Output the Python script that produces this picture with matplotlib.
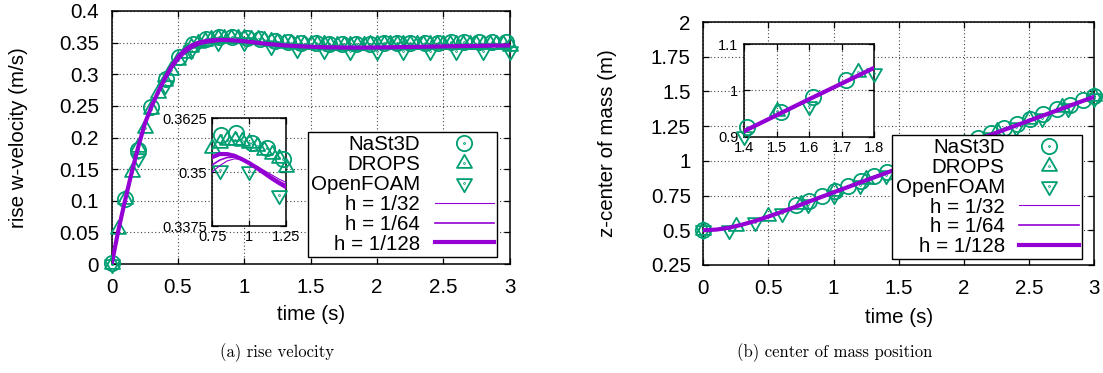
import numpy as np
import matplotlib
matplotlib.use('Agg')
import matplotlib.pyplot as plt
from matplotlib.path import Path
from matplotlib.ticker import FuncFormatter, MultipleLocator

# ---------------- data: rise velocity ----------------
t_sim_v = [0, 0.05, 0.1, 0.15, 0.2, 0.25, 0.3, 0.35, 0.4, 0.45, 0.5, 0.55, 0.6, 0.65, 0.7,
           0.75, 0.8, 0.85, 0.9, 0.95, 1.0, 1.05, 1.1, 1.15, 1.2, 1.25, 1.3, 1.4, 1.5, 1.6,
           1.7, 1.8, 1.9, 2.0, 2.2, 2.4, 2.6, 2.8, 3.0]
v_h128 = [0, 0.053, 0.100, 0.144, 0.185, 0.222, 0.249, 0.272, 0.293, 0.312, 0.327, 0.338, 0.345,
          0.3495, 0.3522, 0.3535, 0.3542, 0.3542, 0.3538, 0.3530, 0.3521, 0.3510, 0.3498, 0.3486,
          0.3475, 0.3465, 0.3457, 0.3444, 0.3435, 0.3428, 0.3424, 0.3422, 0.3422, 0.3424, 0.3430,
          0.3437, 0.3444, 0.3450, 0.3455]
v_h64 = [0, 0.053, 0.100, 0.144, 0.185, 0.222, 0.249, 0.271, 0.291, 0.309, 0.324, 0.335, 0.343,
         0.3478, 0.3505, 0.3517, 0.3528, 0.3534, 0.3535, 0.3529, 0.3521, 0.3511, 0.3500, 0.3489,
         0.3479, 0.3470, 0.3462, 0.3448, 0.3438, 0.3430, 0.3425, 0.3422, 0.3422, 0.3424, 0.3430,
         0.3437, 0.3444, 0.3450, 0.3455]
v_h32 = [0, 0.052, 0.099, 0.143, 0.184, 0.221, 0.248, 0.270, 0.289, 0.307, 0.321, 0.332, 0.340,
         0.3455, 0.3485, 0.3501, 0.3515, 0.3526, 0.3531, 0.3529, 0.3523, 0.3514, 0.3504, 0.3494,
         0.3484, 0.3476, 0.3468, 0.3453, 0.3441, 0.3432, 0.3426, 0.3423, 0.3422, 0.3424, 0.3430,
         0.3437, 0.3444, 0.3450, 0.3455]

t_nast_v = [0, 0.10, 0.20, 0.30, 0.41, 0.51, 0.61, 0.71, 0.81, 0.91, 1.02, 1.12, 1.23, 1.33, 1.43,
            1.54, 1.64, 1.74, 1.84, 1.95, 2.05, 2.15, 2.25, 2.36, 2.46, 2.56, 2.66, 2.77, 2.87, 2.97]
v_nast = [0.001, 0.102, 0.180, 0.249, 0.292, 0.327, 0.348, 0.356, 0.3586, 0.3590, 0.3568, 0.3557,
          0.3531, 0.3515, 0.3500, 0.3490, 0.3484, 0.3482, 0.3482, 0.3484, 0.3487, 0.3490, 0.3493,
          0.3496, 0.3499, 0.3502, 0.3504, 0.3506, 0.3508, 0.3510]

t_drops_v = [0, 0.05, 0.1, 0.15, 0.2, 0.25, 0.3, 0.35, 0.4, 0.45, 0.5, 0.55, 0.6, 0.65, 0.7, 0.75,
             0.8, 0.85, 0.9, 0.95, 1.0, 1.05, 1.1, 1.15, 1.2, 1.25, 1.3, 1.35, 1.4, 1.45, 1.5, 1.55,
             1.6, 1.65, 1.7, 1.75, 1.8, 1.85, 1.9, 1.95, 2.0, 2.05, 2.1, 2.15, 2.2, 2.25, 2.3, 2.35,
             2.4, 2.45, 2.5, 2.55, 2.6, 2.65, 2.7, 2.75, 2.8, 2.85, 2.9, 2.95, 3.0]
v_drops = [0.0, 0.056, 0.102, 0.146, 0.185, 0.215, 0.245, 0.270, 0.290, 0.307, 0.322, 0.334, 0.343,
           0.349, 0.353, 0.3555, 0.3567, 0.3574, 0.3575, 0.3572, 0.3567, 0.3560, 0.3551, 0.3543,
           0.3532, 0.3512, 0.3500, 0.3492, 0.3485, 0.3480, 0.3476, 0.3473, 0.3471, 0.3470, 0.3469,
           0.3469, 0.3469, 0.3470, 0.3470, 0.3471, 0.3472, 0.3472, 0.3473, 0.3474, 0.3474, 0.3475,
           0.3476, 0.3476, 0.3477, 0.3478, 0.3478, 0.3479, 0.3479, 0.3480, 0.3480, 0.3481, 0.3481,
           0.3482, 0.3482, 0.3482, 0.3450]

t_foam_v = [0, 0.2, 0.4, 0.6, 0.8, 1.0, 1.2, 1.4, 1.6, 1.8, 2.0, 2.2, 2.4, 2.6, 2.8, 3.0]
v_foam = [0.0, 0.168, 0.283, 0.338, 0.3505, 0.3503, 0.3447, 0.3400, 0.3380, 0.3370, 0.3360,
          0.3360, 0.3360, 0.3360, 0.3360, 0.3360]

# ---------------- data: center of mass ----------------
t_sim_z = [0, 0.1, 0.2, 0.3, 0.4, 0.5, 0.6, 0.7, 0.8, 0.9, 1.0, 1.2, 1.4, 1.6, 1.8, 2.0, 2.2,
           2.4, 2.6, 2.8, 3.0]
z_h128 = [0.5, 0.505, 0.519, 0.541, 0.568, 0.599, 0.632, 0.667, 0.703, 0.738, 0.773, 0.843,
          0.912, 0.981, 1.049, 1.118, 1.186, 1.255, 1.324, 1.393, 1.462]
z_h64 = [0.5, 0.505, 0.519, 0.541, 0.567, 0.598, 0.631, 0.666, 0.701, 0.736, 0.771, 0.841,
         0.910, 0.979, 1.047, 1.116, 1.184, 1.253, 1.322, 1.391, 1.460]
z_h32 = [0.5, 0.505, 0.518, 0.540, 0.567, 0.597, 0.630, 0.665, 0.700, 0.735, 0.770, 0.840,
         0.909, 0.978, 1.046, 1.115, 1.183, 1.252, 1.321, 1.390, 1.459]

t_nast_z = [0, 0.71, 0.81, 0.91, 1.01, 1.11, 1.21, 1.31, 1.41, 1.515, 1.612, 1.714, 1.81, 1.91,
            2.01, 2.11, 2.21, 2.31, 2.41, 2.51, 2.61, 2.71, 2.81, 2.91, 3.0]
z_nast = [0.5, 0.679, 0.714, 0.750, 0.785, 0.820, 0.855, 0.889, 0.921, 0.953, 0.986, 1.022,
          1.060, 1.095, 1.130, 1.165, 1.200, 1.234, 1.268, 1.302, 1.337, 1.371, 1.405, 1.440,
          1.470]

t_drops_z = [0, 0.25, 0.5, 0.75, 1.0, 1.25, 1.5, 1.75, 2.0, 2.25, 2.5, 2.75, 3.0]
z_drops = [0.5, 0.53, 0.60, 0.69, 0.782, 0.866, 0.955, 1.040, 1.127, 1.215, 1.303, 1.390, 1.465]

t_foam_z = [0, 0.2, 0.4, 0.6, 0.8, 1.0, 1.2, 1.4, 1.6, 1.8, 2.0, 2.2, 2.4, 2.6, 2.8, 3.0]
z_foam = [0.5, 0.503, 0.560, 0.622, 0.690, 0.757, 0.828, 0.901, 0.966, 1.037, 1.105, 1.175,
          1.245, 1.312, 1.380, 1.450]

labels = ['NaSt3D', 'DROPS', 'OpenFOAM', 'h = 1/32', 'h = 1/64', 'h = 1/128']
xlabel = 'time (s)'
ylabel_v = 'rise w-velocity (m/s)'
ylabel_z = 'z-center of mass (m)'
caption_a = '(a) rise velocity'
caption_b = '(b) center of mass position'

# ---------------- style ----------------
GREEN = '#009e73'
PURPLE = '#9400d3'
SANS = ['Liberation Sans', 'DejaVu Sans']
plt.rcParams['font.family'] = SANS
FS = 14.8
FS_IN = 10.5

_circ = Path.unit_circle()
_dot = Path(_circ.vertices * 0.06, _circ.codes)
_tri_up = Path([(0, 1.33), (-1.15, -0.67), (1.15, -0.67), (0, 1.33)],
               [Path.MOVETO, Path.LINETO, Path.LINETO, Path.CLOSEPOLY])
_tri_dn = Path([(0, -1.33), (-1.15, 0.67), (1.15, 0.67), (0, -1.33)],
               [Path.MOVETO, Path.LINETO, Path.LINETO, Path.CLOSEPOLY])
M_CIRC = Path.make_compound_path(_circ, _dot)
M_UP = Path.make_compound_path(_tri_up, _dot)
M_DN = Path.make_compound_path(_tri_dn, _dot)
MARKERS = [(M_CIRC, 11.0), (M_UP, 12.5), (M_DN, 12.5)]
LWS = [0.8, 1.2, 3.0]

W, H = 1103, 373
fig = plt.figure(figsize=(W / 100, H / 100), dpi=100)


def frac(x0, y0, x1, y1):
    return [x0 / W, 1 - y1 / H, (x1 - x0) / W, (y1 - y0) / H]


fmt = FuncFormatter(lambda v, p: f'{v:g}')
grid_kw = dict(color='#444444', linestyle=(0, (1, 2.2)), linewidth=0.8)


def style_axes(ax, fs, xpad, ypad):
    for s in ax.spines.values():
        s.set_linewidth(1.1)
    ax.tick_params(direction='in', length=4, width=0.9, top=True, right=True, labelsize=fs)
    ax.tick_params(axis='x', pad=xpad)
    ax.tick_params(axis='y', pad=ypad)
    ax.xaxis.set_major_formatter(fmt)
    ax.yaxis.set_major_formatter(fmt)
    ax.grid(True, **grid_kw)
    ax.set_axisbelow(True)


def draw(ax, exp, sims, t_sim, xr=None, yr=None):
    handles = []
    for (tt, vv), (mk, ms) in zip(exp, MARKERS):
        tt = np.asarray(tt)
        vv = np.asarray(vv)
        if xr is not None:
            m = (tt >= xr[0] - 1e-9) & (tt <= xr[1] + 1e-9) & (vv >= yr[0]) & (vv <= yr[1])
            tt, vv = tt[m], vv[m]
        h, = ax.plot(tt, vv, ls='none', marker=mk, ms=ms, mfc='none', mec=GREEN, mew=1.3,
                     clip_on=False, zorder=3)
        handles.append(h)
    for vv, lw in zip(sims, LWS):
        h, = ax.plot(t_sim, vv, color=PURPLE, lw=lw, zorder=4)
        handles.append(h)
    return handles


leg_kw = dict(loc='lower right', markerfirst=False, frameon=True, fancybox=False,
              edgecolor='black', framealpha=1, fontsize=FS, handlelength=2.9,
              handletextpad=0.7, borderpad=0.15, labelspacing=0.04, borderaxespad=0,
              numpoints=1)

# ---------------- panel (a) ----------------
ax1 = fig.add_axes(frac(111.7, 11, 509.5, 264))
exp_v = [(t_nast_v, v_nast), (t_drops_v, v_drops), (t_foam_v, v_foam)]
sims_v = [v_h32, v_h64, v_h128]
hs = draw(ax1, exp_v, sims_v, t_sim_v)
ax1.set_xlim(0, 3)
ax1.set_ylim(0, 0.4)
ax1.xaxis.set_major_locator(MultipleLocator(0.5))
ax1.yaxis.set_major_locator(MultipleLocator(0.05))
style_axes(ax1, FS, 10, 9)
ax1.set_xlabel(xlabel, fontsize=FS, va='center')
ax1.xaxis.set_label_coords(0.5, -0.2)
ax1.set_ylabel(ylabel_v, fontsize=FS, va='center')
ax1.yaxis.set_label_coords(-0.235, 0.5)
leg1 = ax1.legend(hs, labels, bbox_to_anchor=(0.9693, 0.0289), **leg_kw)
leg1.get_frame().set_linewidth(1.0)

ins1 = fig.add_axes(frac(212.3, 118.3, 286.3, 226))
ins1.set_facecolor('white')
draw(ins1, exp_v, sims_v, t_sim_v, xr=(0.75, 1.25), yr=(0.3375, 0.3625))
ins1.set_xlim(0.75, 1.25)
ins1.set_ylim(0.3375, 0.3625)
ins1.set_xticks([0.75, 1, 1.25])
ins1.set_yticks([0.3375, 0.35, 0.3625])
style_axes(ins1, FS_IN, 3, 4)

# ---------------- panel (b) ----------------
ax2 = fig.add_axes(frac(703.3, 22, 1094.3, 265))
exp_z = [(t_nast_z, z_nast), (t_drops_z, z_drops), (t_foam_z, z_foam)]
sims_z = [z_h32, z_h64, z_h128]
hs2 = draw(ax2, exp_z, sims_z, t_sim_z)
ax2.set_xlim(0, 3)
ax2.set_ylim(0.25, 2)
ax2.xaxis.set_major_locator(MultipleLocator(0.5))
ax2.yaxis.set_major_locator(MultipleLocator(0.25))
style_axes(ax2, FS, 10, 9)
ax2.set_xlabel(xlabel, fontsize=FS, va='center')
ax2.xaxis.set_label_coords(0.5, -0.215)
ax2.set_ylabel(ylabel_z, fontsize=FS, va='center')
ax2.yaxis.set_label_coords(-0.245, 0.5)
leg2 = ax2.legend(hs2, labels, bbox_to_anchor=(0.9678, 0.0235), **leg_kw)
leg2.get_frame().set_linewidth(1.0)

ins2 = fig.add_axes(frac(744, 44, 874.4, 136.7))
ins2.set_facecolor('white')
draw(ins2, exp_z, sims_z, t_sim_z, xr=(1.4, 1.8), yr=(0.9, 1.1))
ins2.set_xlim(1.4, 1.8)
ins2.set_ylim(0.9, 1.1)
ins2.set_xticks([1.4, 1.5, 1.6, 1.7, 1.8])
ins2.set_yticks([0.9, 1.0, 1.1])
style_axes(ins2, FS_IN, 3, 4)

# ---------------- captions ----------------
fig.text(277 / W, 1 - 353 / H, caption_a, fontsize=12, family=['cmr10', 'DejaVu Serif'],
         ha='center', va='center')
fig.text(835 / W, 1 - 353 / H, caption_b, fontsize=12, family=['cmr10', 'DejaVu Serif'],
         ha='center', va='center')

fig.savefig('out.png', dpi=100)
